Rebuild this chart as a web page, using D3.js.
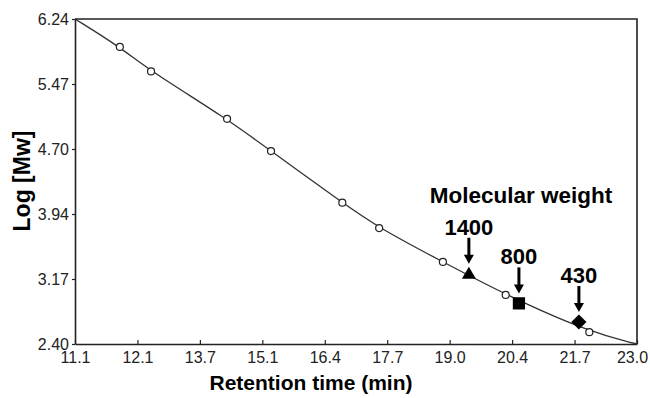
<!DOCTYPE html>
<html>
  <body style="margin:0;background:#fff">
    <script src="https://d3js.org/d3.v7.min.js"></script>
    <script type="text/javascript">
      const width = 650;
      const height = 398;
      const margin = { top: 19, right: 13, bottom: 54, left: 75 };

      // calibration standards (open circles)
      const stdTime = [12.05, 12.71, 14.32, 15.25, 16.76, 17.54, 18.89, 20.22, 21.99];
      const stdLogMw = [5.91, 5.62, 5.06, 4.68, 4.07, 3.77, 3.37, 2.98, 2.54];

      // calibration curve, end points plus standards
      const curveTime = [11.1, 12.05, 12.71, 14.32, 15.25, 16.76, 17.54, 18.89, 20.22, 21.99, 23.0];
      const curveLogMw = [6.24, 5.91, 5.62, 5.06, 4.68, 4.07, 3.77, 3.37, 2.98, 2.54, 2.40];

      // samples
      const sampleLabels = ['1400', '800', '430'];
      const sampleShapes = ['triangle', 'square', 'diamond'];
      const sampleTime = [19.44, 20.50, 21.77];
      const sampleLogMw = [3.23, 2.88, 2.66];

      const xTickLabels = ['11.1', '12.1', '13.7', '15.1', '16.4', '17.7', '19.0', '20.4', '21.7', '23.0'];
      const yTickLabels = ['2.40', '3.17', '3.94', '4.70', '5.47', '6.24'];

      const xMin = 11.1, xMax = 23.0, yMin = 2.40, yMax = 6.24;

      const xScale = d3.scaleLinear()
        .domain([xMin, xMax])
        .range([margin.left, width - margin.right]);

      const yScale = d3.scaleLinear()
        .domain([yMin, yMax])
        .range([height - margin.bottom, margin.top]);

      const xTicks = xTickLabels.map((d, i) => xMin + (xMax - xMin) * i / (xTickLabels.length - 1));
      const yTicks = yTickLabels.map((d, i) => yMin + (yMax - yMin) * i / (yTickLabels.length - 1));

      const svg = d3.select('body')
        .append('svg')
        .attr('width', width)
        .attr('height', height)
        .style('font-family', 'Liberation Sans, Arial, sans-serif');

      // frame
      svg.append('path')
        .attr('d', `M${xScale(xMin)},${yScale(yMax)}H${xScale(xMax)}V${yScale(yMin)}`)
        .attr('fill', 'none')
        .attr('stroke', '#222')
        .attr('stroke-width', 1.6);

      const xAxis = svg.append('g')
        .attr('transform', `translate(0,${yScale(yMin)})`)
        .call(d3.axisBottom(xScale)
          .tickValues(xTicks)
          .tickFormat((d, i) => xTickLabels[i])
          .tickSizeInner(-4)
          .tickSizeOuter(0)
          .tickPadding(8));

      const yAxis = svg.append('g')
        .attr('transform', `translate(${xScale(xMin)},0)`)
        .call(d3.axisLeft(yScale)
          .tickValues(yTicks)
          .tickFormat((d, i) => yTickLabels[i])
          .tickSizeInner(3)
          .tickSizeOuter(0)
          .tickPadding(3));

      [xAxis, yAxis].forEach((g) => {
        g.select('.domain').attr('stroke', '#222').attr('stroke-width', 1.6);
        g.selectAll('.tick line').attr('stroke', '#222').attr('stroke-width', 1.2);
        g.selectAll('.tick text')
          .attr('fill', '#222')
          .style('font-size', '16px')
          .style('font-family', 'Liberation Sans, Arial, sans-serif');
      });

      // last x label sits against the right edge
      xAxis.selectAll('.tick text')
        .filter((d, i) => i === xTickLabels.length - 1)
        .attr('dx', -5);

      // axis titles
      svg.append('text')
        .attr('x', 311)
        .attr('y', 390)
        .attr('text-anchor', 'middle')
        .style('font-size', '21px')
        .style('font-weight', 'bold')
        .text('Retention time (min)');

      svg.append('text')
        .attr('transform', 'translate(30,181) rotate(-90)')
        .attr('text-anchor', 'middle')
        .style('font-size', '23px')
        .style('font-weight', 'bold')
        .text('Log [Mw]');

      // calibration curve
      const line = d3.line()
        .x((d) => xScale(d[0]))
        .y((d) => yScale(d[1]))
        .curve(d3.curveBasis);

      svg.append('path')
        .datum(curveTime.map((t, i) => [t, curveLogMw[i]]))
        .attr('d', line)
        .attr('fill', 'none')
        .attr('stroke', '#333')
        .attr('stroke-width', 1.3);

      // standards
      svg.append('g')
        .selectAll('circle')
        .data(stdTime.map((t, i) => [t, stdLogMw[i]]))
        .enter()
        .append('circle')
        .attr('cx', (d) => xScale(d[0]))
        .attr('cy', (d) => yScale(d[1]))
        .attr('r', 3.5)
        .attr('fill', '#fff')
        .attr('stroke', '#222')
        .attr('stroke-width', 1.2);

      // samples
      const symbols = {
        triangle: d3.symbol().type(d3.symbolTriangle).size(85)(),
        square: d3.symbol().type(d3.symbolSquare).size(150)(),
        diamond: d3.symbol().type(d3.symbolSquare).size(115)(),
      };

      const samples = svg.append('g')
        .selectAll('g')
        .data(sampleLabels.map((l, i) => ({ label: l, shape: sampleShapes[i], t: sampleTime[i], v: sampleLogMw[i] })))
        .enter()
        .append('g')
        .attr('transform', (d) => `translate(${xScale(d.t)},${yScale(d.v)})`);

      samples.append('path')
        .attr('d', (d) => symbols[d.shape])
        .attr('transform', (d) => d.shape === 'diamond' ? 'rotate(45)' : d.shape === 'triangle' ? 'translate(0,1)' : null)
        .attr('fill', '#000');

      samples.append('line')
        .attr('x1', 0).attr('x2', 0)
        .attr('y1', -36).attr('y2', -18)
        .attr('stroke', '#000')
        .attr('stroke-width', 3);

      samples.append('path')
        .attr('d', 'M-5,-19L5,-19L0,-10Z')
        .attr('fill', '#000');

      samples.append('text')
        .attr('y', -39)
        .attr('text-anchor', 'middle')
        .style('font-size', '22px')
        .style('font-weight', 'bold')
        .text((d) => d.label);

      svg.append('text')
        .attr('x', 521)
        .attr('y', 203)
        .attr('text-anchor', 'middle')
        .style('font-size', '22.5px')
        .style('font-weight', 'bold')
        .text('Molecular weight');
    </script>
  </body>
</html>
